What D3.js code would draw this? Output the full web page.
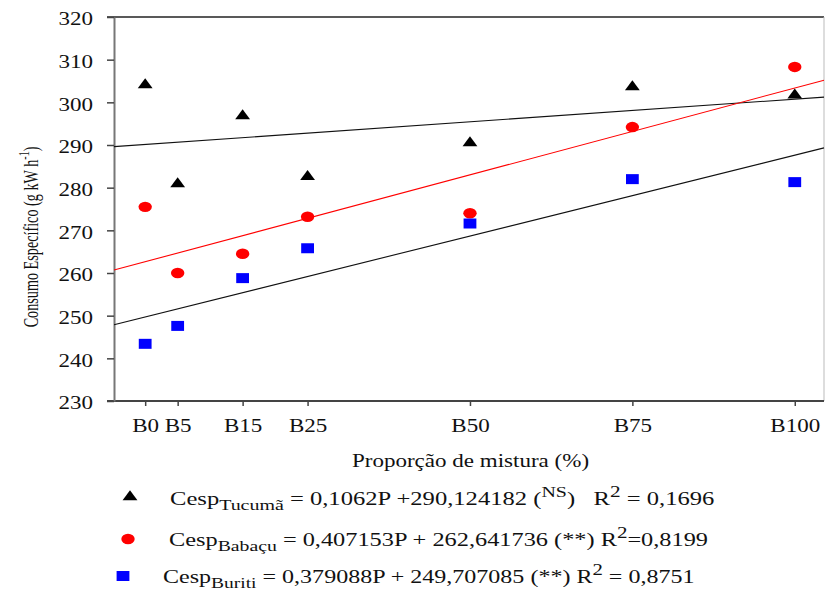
<!DOCTYPE html>
<html>
<head>
<meta charset="utf-8">
<script src="https://cdn.jsdelivr.net/npm/d3@7"></script>
<style>
  body { margin: 0; background: #fff; }
  text { font-family: "Liberation Serif", "Times New Roman", serif; fill: #111; }
</style>
</head>
<body>
<script>
// data
var categories = ["B0", "B5", "B15", "B25", "B50", "B75", "B100"];
var proportions = [0, 5, 15, 25, 50, 75, 100];
var tucuma = [304.1, 280.9, 296.8, 282.6, 290.5, 303.6, 301.7];
var babacu = [275.5, 260.0, 264.5, 273.2, 274.0, 294.2, 308.3];
var buriti = [243.4, 247.6, 258.8, 265.8, 271.6, 282.0, 281.3];
var slopes = [0.1062, 0.407153, 0.379088];
var intercepts = [290.124182, 262.641736, 249.707085];
var yTicks = [230, 240, 250, 260, 270, 280, 290, 300, 310, 320];

//Width, Height and stretch of the text (the picture is wider than tall)
var w = 826;
var h = 589;
var sx = 1.28;

var svg = d3.select("body")
            .append("svg")
            .attr("width", w)
            .attr("height", h);

var xScale = d3.scaleLinear()
               .domain([-4.8, 104.5])
               .range([114, 824]);
var yScale = d3.scaleLinear()
               .domain([230, 320])
               .range([401, 17]);

/****Frame (top and right)****/
svg.append("line")
   .attr("x1", 107).attr("x2", 824)
   .attr("y1", yScale(320)).attr("y2", yScale(320))
   .attr("stroke", "#222").attr("stroke-width", 1.5);
svg.append("line")
   .attr("x1", 824).attr("x2", 824)
   .attr("y1", yScale(320)).attr("y2", yScale(230))
   .attr("stroke", "#bbb").attr("stroke-width", 1);

/****Axes****/
var xAxis = d3.axisBottom(xScale)
              .tickValues(proportions)
              .tickFormat(function(d, i){ return categories[i]; })
              .tickSize(5)
              .tickSizeOuter(0);
var yAxis = d3.axisLeft(yScale)
              .tickValues(yTicks)
              .tickSize(7)
              .tickSizeOuter(0);

var gx = svg.append("g")
            .attr("transform", "translate(0," + yScale(230) + ")")
            .call(xAxis);
gx.select(".domain").attr("stroke", "#444").attr("stroke-width", 2)
  .attr("d", "M107,0H824");
gx.selectAll(".tick line").attr("stroke", "#444").attr("stroke-width", 1.5);
gx.selectAll(".tick text")
  .attr("y", 31).attr("dy", 0)
  .attr("font-size", 18)
  .attr("transform", "scale(" + sx + ",1)");

var gy = svg.append("g")
            .attr("transform", "translate(" + xScale.range()[0] + ",0)")
            .call(yAxis);
gy.select(".domain").attr("stroke", "#777").attr("stroke-width", 2);
gy.selectAll(".tick line").attr("stroke", "#444").attr("stroke-width", 1.5);
gy.selectAll(".tick text")
  .attr("x", -16.4).attr("dy", "0.44em")
  .attr("font-size", 18)
  .attr("transform", "scale(" + sx + ",1)");

/****Regression lines****/
var lineColors = ["#111", "#ff0000", "#111"];
svg.selectAll("line.fit")
   .data(slopes)
   .enter()
   .append("line")
   .attr("class", "fit")
   .attr("x1", xScale(xScale.domain()[0]))
   .attr("x2", xScale(xScale.domain()[1]))
   .attr("y1", function(d, i){ return yScale(intercepts[i] + d * xScale.domain()[0]); })
   .attr("y2", function(d, i){ return yScale(intercepts[i] + d * xScale.domain()[1]); })
   .attr("stroke", function(d, i){ return lineColors[i]; })
   .attr("stroke-width", 1.1);

/****Points****/
var series = [
  { values: tucuma, shape: d3.symbolTriangle, size: 58, color: "#000" },
  { values: babacu, shape: d3.symbolCircle, size: 86, color: "#ff0000" },
  { values: buriti, shape: d3.symbolSquare, size: 100, color: "#0000ff" }
];

series.forEach(function(s){
  svg.append("g")
     .selectAll("path")
     .data(s.values)
     .enter()
     .append("path")
     .attr("d", d3.symbol().type(s.shape).size(s.size))
     .attr("fill", s.color)
     .attr("transform", function(d, i){
       return "translate(" + xScale(proportions[i]) + "," + yScale(d) + ") scale(" + sx + ",1)";
     });
});

/****Axis titles****/
svg.append("text")
   .attr("transform", "translate(38,237) scale(1.5,1) rotate(-90)")
   .attr("text-anchor", "middle")
   .attr("font-size", 14.2)
   .call(function(t){
     t.append("tspan").text("Consumo Específico (g kW h");
     t.append("tspan").attr("font-size", 10).attr("dy", -6).text("-1");
     t.append("tspan").attr("dy", 6).text(")");
   });

svg.append("text")
   .attr("transform", "translate(470.5,467) scale(" + sx + ",1)")
   .attr("text-anchor", "middle")
   .attr("font-size", 18)
   .text("Proporção de mistura (%)");

/****Legend****/
var legendNames = ["Tucumã", "Babaçu", "Buriti"];
var legendSig = ["NS", "**", "**"];
var legendR2 = ["0,1696", "0,8199", "0,8751"];
var legendCoef = ["0,1062P +290,124182", "0,407153P + 262,641736", "0,379088P + 249,707085"];
var legendMark = [[130, 497], [128, 539], [123, 576]];
var legendText = [[170, 505], [169, 546], [163, 583]];
var legendScale = [1.33, 1.315, 1.30];

series.forEach(function(s, i){
  svg.append("path")
     .attr("d", d3.symbol().type(s.shape).size(s.size))
     .attr("fill", s.color)
     .attr("transform", "translate(" + legendMark[i][0] + "," + legendMark[i][1] + ") scale(" + sx + ",1)");

  var t = svg.append("text")
             .attr("transform", "translate(" + legendText[i][0] + "," + legendText[i][1] + ") scale(" + legendScale[i] + ",1)")
             .attr("font-size", 18.5)
             .attr("xml:space", "preserve");
  t.append("tspan").text("Cesp");
  t.append("tspan").attr("font-size", 15).attr("dy", 5).text(legendNames[i]);
  if (i === 0) {
    t.append("tspan").attr("dy", -5).text(" = " + legendCoef[i] + " (");
    t.append("tspan").attr("font-size", 15).attr("dy", -8).text(legendSig[i]);
    t.append("tspan").attr("dy", 8).text(")   R");
  } else {
    t.append("tspan").attr("dy", -5).text(" = " + legendCoef[i] + " (" + legendSig[i] + ") R");
  }
  t.append("tspan").attr("font-size", 16).attr("dy", -8).text("2");
  t.append("tspan").attr("dy", 8).text(i === 1 ? "=" + legendR2[i] : " = " + legendR2[i]);
});
</script>
</body>
</html>
